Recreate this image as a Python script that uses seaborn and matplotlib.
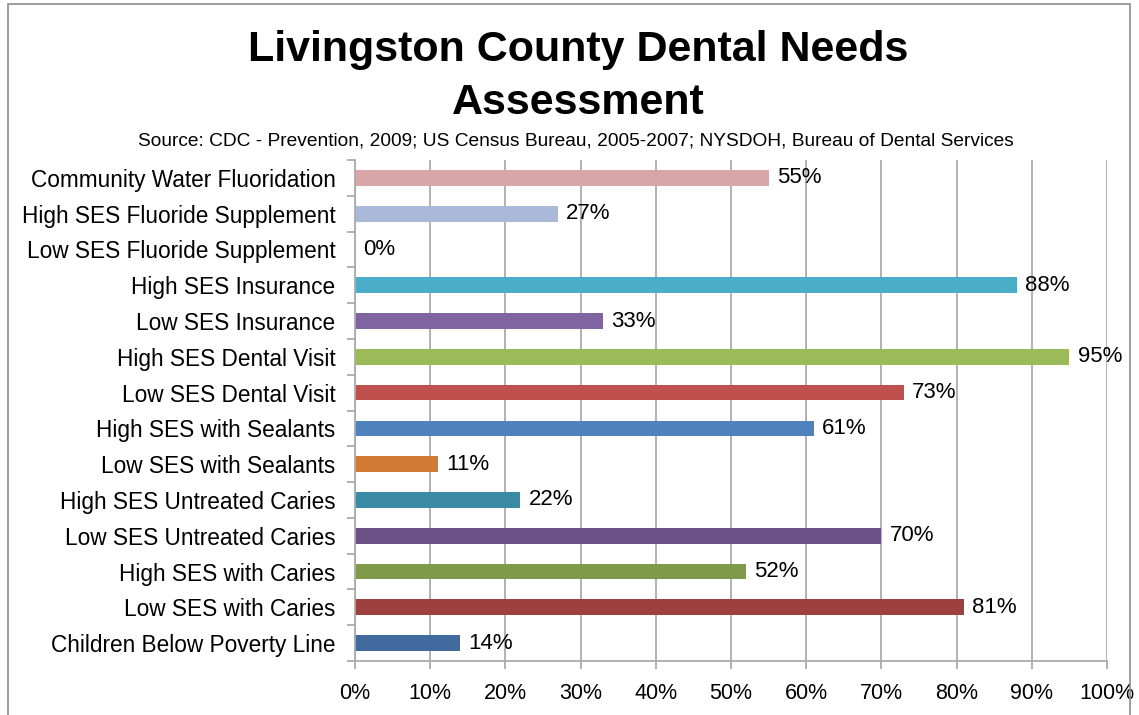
import matplotlib
matplotlib.use("Agg")
import matplotlib.pyplot as plt
from matplotlib.patches import Rectangle
from matplotlib.ticker import FixedLocator, PercentFormatter
import seaborn as sns
import pandas as pd

categories = [
    "Community Water Fluoridation",
    "High SES Fluoride Supplement",
    "Low SES Fluoride Supplement",
    "High SES Insurance",
    "Low SES Insurance",
    "High SES Dental Visit",
    "Low SES Dental Visit",
    "High SES with Sealants",
    "Low SES with Sealants",
    "High SES Untreated Caries",
    "Low SES Untreated Caries",
    "High SES with Caries",
    "Low SES with Caries",
    "Children Below Poverty Line",
]
values = [55, 27, 0, 88, 33, 95, 73, 61, 11, 22, 70, 52, 81, 14]
colors = [
    "#D9A6A7", "#AAB9D9", "#FFFFFF", "#4BADC7", "#8064A2", "#9BBB59", "#C0504D",
    "#4F81BD", "#D17B37", "#3A8BA3", "#6A5086", "#7F9A48", "#9E413E", "#416B9E",
]
x_ticks = [0, 10, 20, 30, 40, 50, 60, 70, 80, 90, 100]

title_lines = ["Livingston County Dental Needs", "Assessment"]
subtitle = ("Source: CDC - Prevention, 2009; US Census Bureau, 2005-2007; "
            "NYSDOH, Bureau of Dental Services")

sns.set_theme(style="white")
plt.rcParams["font.family"] = ["Liberation Sans", "DejaVu Sans"]
plt.rcParams["text.color"] = "black"

df = pd.DataFrame({"category": categories, "value": values})

W, H = 1139, 715
fig = plt.figure(figsize=(W / 100, H / 100), dpi=100)
ax = fig.add_axes([355 / W, 1 - 661 / H, (1107 - 355) / W, (661 - 160) / H])

sns.barplot(data=df, x="value", y="category", hue="category",
            palette=dict(zip(categories, colors)), order=categories,
            width=0.44, legend=False, saturation=1, linewidth=0, ax=ax)

ax.set_xlim(0, 100)
ax.set_ylim(len(categories) - 0.5, -0.5)
ax.set_xticks(x_ticks)
ax.xaxis.set_major_formatter(PercentFormatter(decimals=0))
ax.set_xlabel("")
ax.set_ylabel("")

grid_c = "#ABABAB"
ax.grid(axis="x", color=grid_c, linewidth=1.3)
ax.set_axisbelow(True)
for side in ["top", "right"]:
    ax.spines[side].set_visible(False)
for side in ["left", "bottom"]:
    ax.spines[side].set_color(grid_c)
    ax.spines[side].set_linewidth(1.3)

# category ticks sit on the boundaries between bars
ax.yaxis.set_major_locator(FixedLocator(range(len(categories))))
ax.yaxis.set_minor_locator(FixedLocator([i - 0.5 for i in range(len(categories) + 1)]))
ax.tick_params(axis="y", which="major", length=0, labelsize=16.3, pad=14,
               labelcolor="black")
ax.tick_params(axis="y", which="minor", length=6, width=1.3, color=grid_c,
               direction="out", left=True)
ax.tick_params(axis="x", length=6, width=1.3, color=grid_c, direction="out",
               labelsize=15.5, pad=10, labelcolor="black", bottom=True)

for cont in ax.containers:
    ax.bar_label(cont, fmt="%d%%", padding=6, fontsize=16, color="black")

fig.text(578 / W, 1 - 61 / H, title_lines[0], ha="center", va="baseline",
         fontsize=31, fontweight="bold")
fig.text(578 / W, 1 - 114 / H, title_lines[1], ha="center", va="baseline",
         fontsize=31, fontweight="bold")
fig.text(576 / W, 1 - 146 / H, subtitle, ha="center", va="baseline", fontsize=13.8)

# chart frame
fig.patches.append(Rectangle((8 / W, -0.05), (1130 - 8) / W, 1.05 - 4 / H,
                             transform=fig.transFigure, fill=False,
                             edgecolor="#8C8C8C", linewidth=1.2))

fig.savefig("out.png", dpi=100)
